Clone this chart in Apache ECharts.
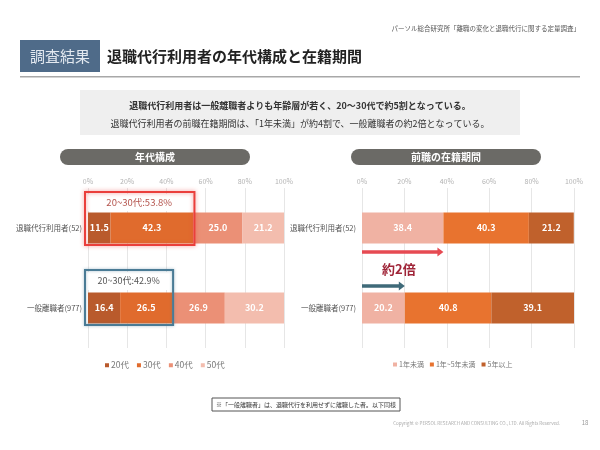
<!DOCTYPE html>
<html><head><meta charset="utf-8">
<script src="https://cdn.jsdelivr.net/npm/echarts@6/dist/echarts.min.js"></script>
<style>html,body{margin:0;padding:0;background:#fff}#c{width:600px;height:450px}</style>
</head><body><div id="c"></div>
<script>
const categories = ['退職代行利用者(52)', '一般離職者(977)'];
const ageNames = ['20代', '30代', '40代', '50代'];
const age20 = [11.5, 16.4];
const age30 = [42.3, 26.5];
const age40 = [25.0, 26.9];
const age50 = [21.2, 30.2];
const tenureNames = ['1年未満', '1年~5年未満', '5年以上'];
const tenureUnder1 = [38.4, 20.2];
const tenure1to5 = [40.3, 40.8];
const tenureOver5 = [21.2, 39.1];
const xTickValues = [0, 20, 40, 60, 80, 100];

const FONT = '"Noto Sans CJK JP", "Noto Sans", sans-serif';
const ageColors = ['#b95a2c', '#e06b2d', '#eb9076', '#f3bdae'];
const tenureColors = ['#f0b2a3', '#e8732f', '#c0612c'];

const chart = echarts.init(document.getElementById('c'));

function xAxisCfg(gi) {
  return {
    type: 'value', gridIndex: gi, min: xTickValues[0], max: xTickValues[xTickValues.length - 1],
    interval: xTickValues[1] - xTickValues[0], position: 'top',
    axisLine: { show: false }, axisTick: { show: false },
    axisLabel: { formatter: '{value}%', color: '#b3b3b3', fontSize: 7, margin: 3, fontFamily: FONT },
    splitLine: { lineStyle: { color: '#e6e6e6', width: 1 } }
  };
}
function yAxisCfg(gi) {
  return {
    type: 'category', gridIndex: gi, data: categories, inverse: true,
    axisLine: { show: false }, axisTick: { show: false },
    axisLabel: { color: '#555', fontSize: 7.5, margin: 6, fontFamily: FONT }
  };
}
function barSeries(name, data, color, gi) {
  return {
    name, type: 'bar', stack: 's' + gi, xAxisIndex: gi, yAxisIndex: gi, data,
    barWidth: 31, itemStyle: { color },
    label: { show: true, position: 'inside', color: '#fff', fontSize: 9, fontWeight: 'bold', fontFamily: FONT,
      formatter: p => p.value.toFixed(1) }
  };
}

const ageData = [age20, age30, age40, age50];
const tenureData = [tenureUnder1, tenure1to5, tenureOver5];

const series = [];
ageNames.forEach((n, i) => series.push(barSeries(n, ageData[i], ageColors[i], 0)));
tenureNames.forEach((n, i) => series.push(barSeries(n, tenureData[i], tenureColors[i], 1)));

const staticGraphic = [
  { type: 'text', right: 20, top: 25, style: { text: 'パーソル総合研究所「離職の変化と退職代行に関する定量調査」', fontSize: 6.5, fill: '#555', fontFamily: FONT } },
  { type: 'rect', shape: { x: 20, y: 40, width: 80, height: 32 }, style: { fill: '#4f6b89' } },
  { type: 'text', x: 60, y: 56, style: { text: '調査結果', fontSize: 15, fill: '#e3e9f0', fontFamily: FONT, align: 'center', verticalAlign: 'middle' } },
  { type: 'text', x: 107, y: 56, style: { text: '退職代行利用者の年代構成と在籍期間', fontSize: 15, fontWeight: 'bold', fill: '#222', fontFamily: FONT, verticalAlign: 'middle' } },
  { type: 'rect', shape: { x: 20, y: 76, width: 560, height: 1.5 }, style: { fill: '#a8a8a8' } },
  { type: 'rect', shape: { x: 80, y: 90, width: 440, height: 45 }, style: { fill: '#efefef' } },
  { type: 'text', x: 300, y: 106, style: { text: '退職代行利用者は一般離職者よりも年齢層が若く、20～30代で約5割となっている。', fontSize: 9, fontWeight: 'bold', fill: '#333', fontFamily: FONT, align: 'center', verticalAlign: 'middle' } },
  { type: 'text', x: 300, y: 124, style: { text: '退職代行利用者の前職在籍期間は、「1年未満」が約4割で、一般離職者の約2倍となっている。', fontSize: 9, fill: '#333', fontFamily: FONT, align: 'center', verticalAlign: 'middle' } },
  { type: 'rect', shape: { x: 60, y: 149, width: 190, height: 16, r: 8 }, style: { fill: '#6b6a66' } },
  { type: 'text', x: 155, y: 157, style: { text: '年代構成', fontSize: 10, fontWeight: 'bold', fill: '#fff', fontFamily: FONT, align: 'center', verticalAlign: 'middle' } },
  { type: 'rect', shape: { x: 351, y: 149, width: 190, height: 16, r: 8 }, style: { fill: '#6b6a66' } },
  { type: 'text', x: 446, y: 157, style: { text: '前職の在籍期間', fontSize: 10, fontWeight: 'bold', fill: '#fff', fontFamily: FONT, align: 'center', verticalAlign: 'middle' } },
  { type: 'rect', shape: { x: 212, y: 398, width: 188, height: 13 }, style: { fill: '#fff', stroke: '#555', lineWidth: 1 } },
  { type: 'text', x: 306, y: 404.5, style: { text: '※「一般離職者」は、退職代行を利用せずに離職した者。以下同様', fontSize: 6, fill: '#333', fontFamily: FONT, align: 'center', verticalAlign: 'middle' } },
  { type: 'text', x: 560, y: 423, style: { text: 'Copyright © PERSOL RESEARCH AND CONSULTING CO., LTD. All Rights Reserved.', fontSize: 4.5, fill: '#aaa', fontFamily: FONT, align: 'right', verticalAlign: 'middle' } },
  { type: 'text', x: 585, y: 423, style: { text: '18', fontSize: 6, fill: '#999', fontFamily: FONT, align: 'center', verticalAlign: 'middle' } }
];

chart.setOption({
  animation: false,
  backgroundColor: '#fff',
  textStyle: { fontFamily: FONT },
  grid: [
    { left: 88, right: 316, top: 188, bottom: 102 },
    { left: 362, right: 26, top: 188, bottom: 102 }
  ],
  xAxis: [xAxisCfg(0), xAxisCfg(1)],
  yAxis: [yAxisCfg(0), yAxisCfg(1)],
  legend: [
    { data: ageNames, left: 100, top: 356, itemWidth: 4, itemHeight: 4, itemGap: 8, icon: 'rect',
      textStyle: { color: '#777', fontSize: 8.5, fontFamily: FONT, padding: [0, 0, 0, -3] } },
    { data: tenureNames, left: 388, top: 356, itemWidth: 4, itemHeight: 4, itemGap: 6, icon: 'rect',
      textStyle: { color: '#777', fontSize: 7, fontFamily: FONT, padding: [0, 0, 0, -3] } }
  ],
  series,
  graphic: staticGraphic
});

// Annotation boxes & arrows computed from data through the axes
const young0 = +(age20[0] + age30[0]).toFixed(1);
const young1 = +(age20[1] + age30[1]).toFixed(1);
const p0 = chart.convertToPixel({ gridIndex: 0 }, [0, categories[0]]);
const pY0 = chart.convertToPixel({ gridIndex: 0 }, [young0, categories[0]]);
const pY1 = chart.convertToPixel({ gridIndex: 0 }, [young1, categories[1]]);
const r0 = chart.convertToPixel({ gridIndex: 1 }, [0, categories[0]]);
const rA = chart.convertToPixel({ gridIndex: 1 }, [tenureUnder1[0], categories[0]]);
const rB = chart.convertToPixel({ gridIndex: 1 }, [tenureUnder1[1], categories[1]]);

const bx = p0[0] - 3;
const dyn = [];
// red box
dyn.push({ type: 'rect', z: 10, shape: { x: bx + 2, y: pY0[1] - 34, width: pY0[0] - bx - 3, height: 17 }, style: { fill: '#fff' } });
dyn.push({ type: 'text', z: 11, x: (bx + pY0[0]) / 2, y: pY0[1] - 25.5, style: { text: '20~30代:' + young0.toFixed(1) + '%', fontSize: 9.5, fill: '#b4544d', fontFamily: FONT, align: 'center', verticalAlign: 'middle' } });
dyn.push({ type: 'rect', z: 12, shape: { x: bx, y: pY0[1] - 36, width: pY0[0] - bx + 1, height: 53 }, style: { fill: 'none', stroke: '#ea3f3c', lineWidth: 2, shadowBlur: 4, shadowColor: 'rgba(234,63,60,0.6)' } });
// blue box
dyn.push({ type: 'rect', z: 10, shape: { x: bx + 2, y: pY1[1] - 36, width: pY1[0] - bx - 3, height: 18 }, style: { fill: '#fff' } });
dyn.push({ type: 'text', z: 11, x: (bx + pY1[0]) / 2, y: pY1[1] - 27, style: { text: '20~30代:' + young1.toFixed(1) + '%', fontSize: 9, fill: '#555', fontFamily: FONT, align: 'center', verticalAlign: 'middle' } });
dyn.push({ type: 'rect', z: 12, shape: { x: bx, y: pY1[1] - 38, width: pY1[0] - bx + 1, height: 55 }, style: { fill: 'none', stroke: '#4a7b95', lineWidth: 2, shadowBlur: 3, shadowColor: 'rgba(74,123,149,0.5)' } });
// red arrow
const ay = rA[1] + 24;
dyn.push({ type: 'rect', z: 10, shape: { x: r0[0], y: ay - 1.8, width: rA[0] - r0[0] - 5, height: 3.6 }, style: { fill: '#e64a52' } });
dyn.push({ type: 'polygon', z: 10, shape: { points: [[rA[0] - 6, ay - 4.5], [rA[0], ay], [rA[0] - 6, ay + 4.5]] }, style: { fill: '#e64a52' } });
// blue arrow
const by = rB[1] - 22;
dyn.push({ type: 'rect', z: 10, shape: { x: r0[0], y: by - 1.8, width: rB[0] - r0[0] - 5, height: 3.6 }, style: { fill: '#3f6a79' } });
dyn.push({ type: 'polygon', z: 10, shape: { points: [[rB[0] - 6, by - 4.5], [rB[0], by], [rB[0] - 6, by + 4.5]] }, style: { fill: '#3f6a79' } });
dyn.push({ type: 'text', z: 11, x: r0[0] + 20, y: (ay + by) / 2, style: { text: '約2倍', fontSize: 13, fontWeight: 'bold', fill: '#a02639', fontFamily: FONT, verticalAlign: 'middle' } });

chart.setOption({ graphic: staticGraphic.concat(dyn) });
</script></body></html>
